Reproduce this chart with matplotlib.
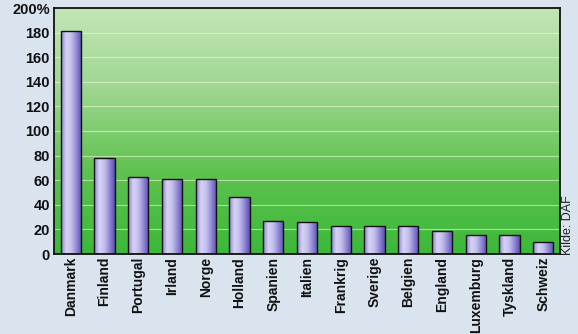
import numpy as np
import matplotlib.pyplot as plt
from matplotlib.colors import LinearSegmentedColormap

countries = ['Danmark', 'Finland', 'Portugal', 'Irland', 'Norge', 'Holland',
             'Spanien', 'Italien', 'Frankrig', 'Sverige', 'Belgien', 'England',
             'Luxemburg', 'Tyskland', 'Schweiz']
values = [181, 78, 63, 61, 61, 46, 27, 26, 23, 23, 23, 19, 15.5, 15.5, 10]
yticks = [0, 20, 40, 60, 80, 100, 120, 140, 160, 180, 200]
ytick_labels = ['0', '20', '40', '60', '80', '100', '120', '140', '160', '180', '200%']

plt.rcParams['font.family'] = ['Liberation Sans', 'DejaVu Sans']

fig = plt.figure(figsize=(5.78, 3.34), dpi=100, facecolor='#dae4ee')
ax = fig.add_axes([54 / 578, 1 - 254 / 334, 506 / 578, 246 / 334])

x = np.arange(len(countries))

# green background gradient (light at top, saturated at bottom)
green = LinearSegmentedColormap.from_list('g', ['#3cb83a', '#5ec24f', '#9ed690', '#c2e6b6'])
grad = np.linspace(0, 1, 256).reshape(-1, 1)
ax.imshow(grad, cmap=green, origin='lower', aspect='auto',
          extent=[-0.5, len(countries) - 0.5, 0, 200], zorder=0)

for y in yticks[1:-1]:
    ax.axhline(y, color='#eef8d8', lw=0.8, alpha=0.6, zorder=1)

bars = ax.bar(x, values, width=0.6, color='none', edgecolor='#111111', lw=1.0, zorder=3)
purple = LinearSegmentedColormap.from_list(
    'p', ['#8a82d0', '#d6d3f3', '#c3bfec', '#8f87d6', '#5a4fae'])
hgrad = np.linspace(0, 1, 64).reshape(1, -1)
for b in bars:
    im = ax.imshow(hgrad, cmap=purple, aspect='auto',
                   extent=[b.get_x(), b.get_x() + b.get_width(), 0, b.get_height()],
                   zorder=2)
    im.set_clip_path(b)

ax.set_xlim(-0.5, len(countries) - 0.5)
ax.set_ylim(0, 200)

for s in ax.spines.values():
    s.set_color('#111111')
    s.set_linewidth(1.3)

ax.set_yticks(yticks)
ax.set_yticklabels(ytick_labels, fontsize=10.5, fontweight='bold', color='#111111')
ax.set_xticks(x)
ax.set_xticklabels(countries, rotation=90, fontsize=10, fontweight='bold', color='#111111')
ax.tick_params(axis='y', length=0, pad=3)
ax.tick_params(axis='x', length=0, pad=2)

fig.text(568 / 578, 1 - 255 / 334, 'Kilde: DAF', rotation=90, fontsize=9,
         ha='center', va='bottom', color='#222222')

fig.savefig('out.png', dpi=100, facecolor=fig.get_facecolor())
